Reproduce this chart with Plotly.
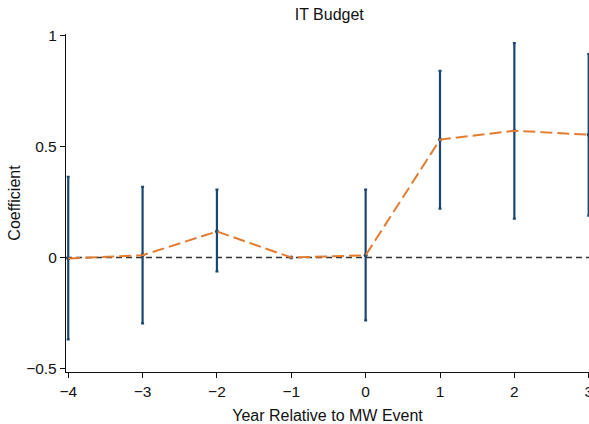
import plotly.graph_objects as go

# Event-study estimates: years relative to the minimum-wage event
years = [-4, -3, -2, -1, 0, 1, 2, 3]
coef = [-0.005, 0.01, 0.117, 0.0, 0.01, 0.53, 0.57, 0.552]
ci_low = [-0.368, -0.296, -0.063, 0.0, -0.283, 0.22, 0.175, 0.188]
ci_high = [0.363, 0.318, 0.305, 0.0, 0.305, 0.839, 0.964, 0.915]

y_ticks = [-0.5, 0, 0.5, 1]
y_tick_text = ["\u22120.5", "0", "0.5", "1"]
x_ticks = [-4, -3, -2, -1, 0, 1, 2, 3]
x_tick_text = ["\u22124", "\u22123", "\u22122", "\u22121", "0", "1", "2", "3"]

navy = "#1a476f"
orange = "#e37b30"

# Reference year (-1) has no confidence interval
has_ci = [lo != hi for lo, hi in zip(ci_low, ci_high)]
plus = [hi - c if ok else 0 for c, hi, ok in zip(coef, ci_high, has_ci)]
minus = [c - lo if ok else 0 for c, lo, ok in zip(coef, ci_low, has_ci)]

fig = go.Figure()

# zero reference line
fig.add_trace(go.Scatter(
    x=[-4.03, 3.2], y=[0, 0], mode="lines",
    line=dict(color="#333333", width=1.5, dash="6px,4px"),
    hoverinfo="skip", showlegend=False,
))

# confidence intervals with point estimates
fig.add_trace(go.Scatter(
    x=years, y=coef, mode="markers",
    marker=dict(color=navy, size=4),
    error_y=dict(type="data", symmetric=False, array=plus, arrayminus=minus,
                 color=navy, thickness=2.2, width=1.5),
    showlegend=False,
))

# connecting dashed line through the estimates
fig.add_trace(go.Scatter(
    x=years, y=coef, mode="lines",
    line=dict(color=orange, width=2, dash="12px,5px"),
    showlegend=False,
))

fig.update_layout(
    width=589, height=424,
    margin=dict(l=66, r=0, t=34, b=52, autoexpand=False),
    paper_bgcolor="white", plot_bgcolor="white",
    font=dict(family="Liberation Sans, Arial, sans-serif", size=16, color="#111111"),
    title=dict(text="IT Budget", x=0.559, xanchor="center", y=0.967, yanchor="middle",
               font=dict(size=16)),
)

axis_common = dict(
    showgrid=False, zeroline=False, showline=True, linecolor="#111111", linewidth=1.3,
    ticks="outside", ticklen=5, tickcolor="#111111", tickfont=dict(size=15.5),
    ticklabeloverflow="allow", automargin=False,
)

fig.update_xaxes(
    range=[-4.03, 3.004], tickvals=x_ticks, ticktext=x_tick_text,
    title=dict(text="Year Relative to MW Event", standoff=13, font=dict(size=16)),
    **axis_common,
)
fig.update_yaxes(
    range=[-0.515, 1.005], tickvals=y_ticks, ticktext=y_tick_text,
    title=dict(text="Coefficient", standoff=1, font=dict(size=16)),
    **axis_common,
)

fig.write_html("out.html")
